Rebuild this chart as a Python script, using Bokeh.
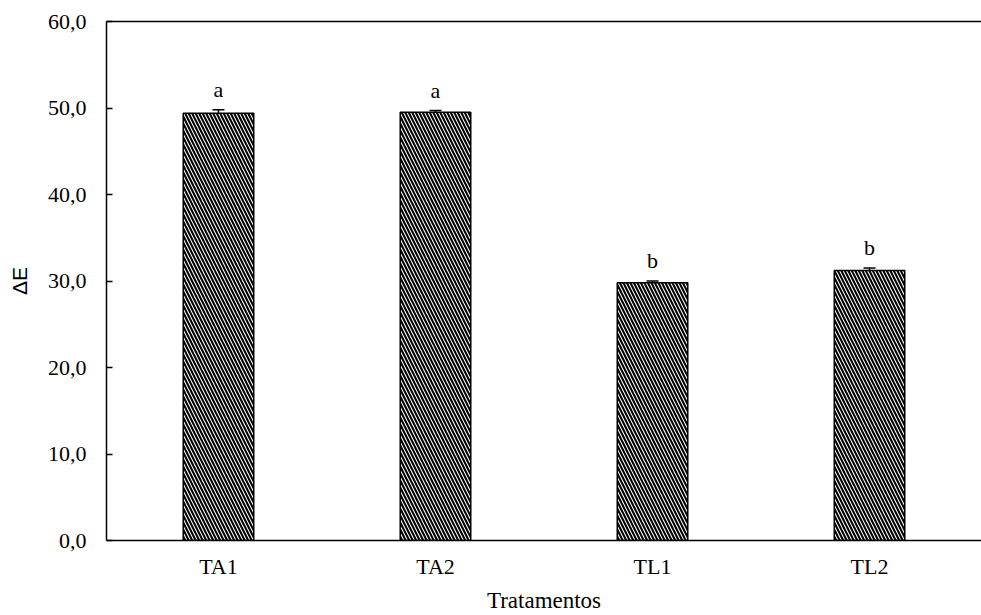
from bokeh.plotting import figure
from bokeh.models import (ColumnDataSource, FactorRange, Range1d, FixedTicker,
                          Whisker, LabelSet, LinearAxis)
from bokeh.embed import file_html
from bokeh.resources import INLINE

# Treatments and colour difference means with standard errors
treatments = ["TA1", "TA2", "TL1", "TL2"]
delta_e = [49.4, 49.5, 29.8, 31.2]
std_err = [0.4, 0.2, 0.2, 0.3]
letters = ["a", "a", "b", "b"]

y_ticks = [0, 10, 20, 30, 40, 50, 60]
y_tick_labels = ["0,0", "10,0", "20,0", "30,0", "40,0", "50,0", "60,0"]

src = ColumnDataSource(dict(
    x=treatments,
    top=delta_e,
    upper=[v + e for v, e in zip(delta_e, std_err)],
    lower=[v - e for v, e in zip(delta_e, std_err)],
    letter=letters,
))

SERIF = "Liberation Serif"

p = figure(
    x_range=FactorRange(*treatments, range_padding=0.008),
    y_range=Range1d(0, 60),
    width=981, height=615,
    output_backend="svg", toolbar_location=None,
    min_border_left=106, min_border_right=0,
    min_border_top=21, min_border_bottom=75,
)
p.outline_line_color = None
p.xgrid.visible = False
p.ygrid.visible = False

p.vbar(x="x", top="top", width=0.325, source=src,
       fill_color="white", line_color="black", line_width=1.5,
       hatch_pattern="\\", hatch_color="black", hatch_weight=2.1,
       hatch_scale=7)

err = Whisker(source=src, base="x", upper="upper", lower="lower",
              line_color="black", line_width=1.5)
err.upper_head.size = 12
err.lower_head.size = 12
err.upper_head.line_width = 1.5
err.lower_head.line_width = 1.5
p.add_layout(err)

p.add_layout(LabelSet(x="x", y="upper", text="letter", source=src,
                      text_align="center", text_baseline="alphabetic",
                      y_offset=13, text_font=SERIF, text_font_size="22px",
                      text_color="black"))

# y axis
p.yaxis.ticker = FixedTicker(ticks=y_ticks)
p.yaxis.major_label_overrides = {t: s for t, s in zip(y_ticks, y_tick_labels)}
p.yaxis.major_tick_in = 6
p.yaxis.major_tick_out = 0
p.yaxis.minor_tick_line_color = None
p.yaxis.axis_line_width = 1.5
p.yaxis.major_tick_line_width = 1.5
p.yaxis.major_label_text_font = SERIF
p.yaxis.major_label_text_font_size = "22px"
p.yaxis.major_label_text_color = "black"
p.yaxis.major_label_standoff = 20
p.yaxis.axis_label = "ΔE"
p.yaxis.axis_label_text_font = "Liberation Sans"
p.yaxis.axis_label_text_font_style = "normal"
p.yaxis.axis_label_text_font_size = "21px"
p.yaxis.axis_label_text_color = "black"
p.yaxis.axis_label_standoff = 14

# x axis
p.xaxis.major_tick_line_color = None
p.xaxis.major_tick_out = 0
p.xaxis.axis_line_width = 1.5
p.xaxis.major_label_text_font = SERIF
p.xaxis.major_label_text_font_size = "22px"
p.xaxis.major_label_text_color = "black"
p.xaxis.major_label_standoff = 13
p.xaxis.axis_label = "Tratamentos"
p.xaxis.axis_label_text_font = SERIF
p.xaxis.axis_label_text_font_style = "normal"
p.xaxis.axis_label_text_font_size = "23px"
p.xaxis.axis_label_text_color = "black"
p.xaxis.axis_label_standoff = 6

# top frame line
top = LinearAxis(ticker=FixedTicker(ticks=[]), major_tick_line_color=None,
                 minor_tick_line_color=None, axis_line_width=1.5)
p.add_layout(top, "above")

open("out.html", "w").write(file_html(p, INLINE))
